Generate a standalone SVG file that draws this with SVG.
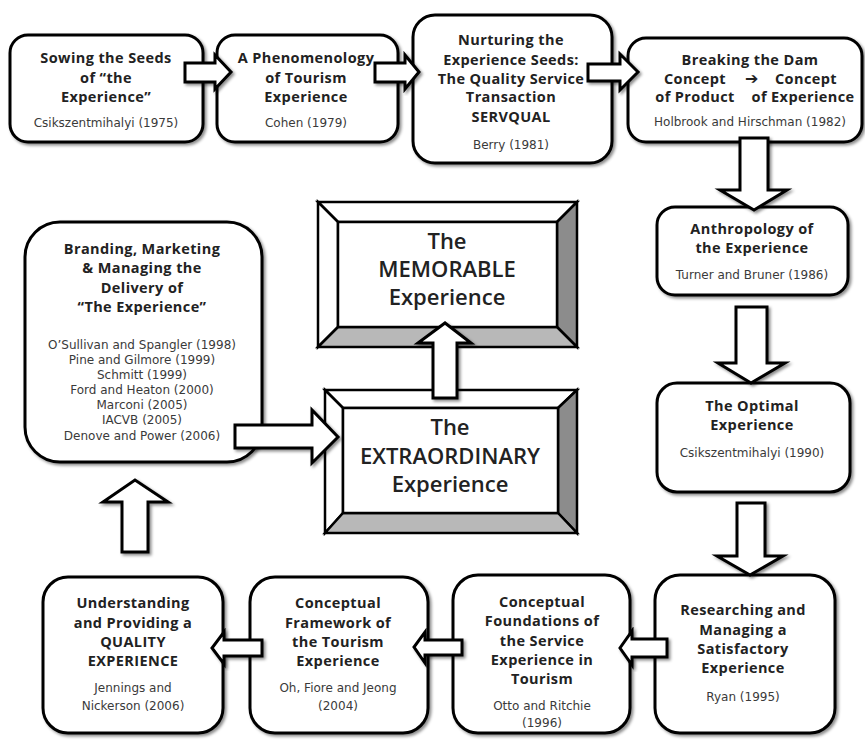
<svg xmlns="http://www.w3.org/2000/svg" width="865" height="740" viewBox="0 0 865 740">
<defs>
<filter id="sh" x="-10%" y="-10%" width="130%" height="130%">
<feDropShadow dx="2" dy="2" stdDeviation="1.5" flood-color="#000" flood-opacity="0.45"/>
</filter>
</defs>
<style>
.box{fill:#fff;stroke:#000;stroke-width:3;filter:url(#sh)}
.arr{fill:#fff;stroke:#000;stroke-width:3;stroke-linejoin:miter;filter:url(#sh)}
.t{font-family:"Open Sans","DejaVu Sans",sans-serif;font-weight:bold;font-size:14.5px;letter-spacing:0.4px;fill:#222;text-anchor:middle}
.c{font-family:"DejaVu Sans","Open Sans",sans-serif;font-size:12px;fill:#3a3a3a;text-anchor:middle}
.big{font-family:"Open Sans","DejaVu Sans",sans-serif;font-weight:600;font-size:22px;fill:#222;text-anchor:middle}
.bev{stroke:#000;stroke-width:2.5;stroke-linejoin:miter}
</style>
<rect width="865" height="740" fill="#fff"/>

<g id="n1">
<rect class="box" x="10" y="35" width="193" height="107" rx="18"/>
<text class="t" x="106" y="63">Sowing the Seeds</text>
<text class="t" x="106" y="83">of “the</text>
<text class="t" x="106" y="102">Experience”</text>
<text class="c" x="106" y="127">Csikszentmihalyi (1975)</text>
</g>
<g id="n2">
<rect class="box" x="217" y="35" width="181" height="107" rx="18"/>
<text class="t" x="306" y="63">A Phenomenology</text>
<text class="t" x="306" y="83">of Tourism</text>
<text class="t" x="306" y="102">Experience</text>
<text class="c" x="306" y="127">Cohen (1979)</text>
</g>
<g id="n3">
<rect class="box" x="413" y="15" width="199" height="148" rx="22"/>
<text class="t" x="511" y="45">Nurturing the</text>
<text class="t" x="511" y="65">Experience Seeds:</text>
<text class="t" x="511" y="84">The Quality Service</text>
<text class="t" x="511" y="102">Transaction</text>
<text class="t" x="511" y="122">SERVQUAL</text>
<text class="c" x="511" y="149">Berry (1981)</text>
</g>
<g id="n4">
<rect class="box" x="628" y="38" width="234" height="104" rx="18"/>
<text class="t" x="750" y="65">Breaking the Dam</text>
<text class="t" x="695" y="84">Concept</text>
<text class="t" x="752" y="84" style="font-family:'DejaVu Sans',sans-serif;font-size:16px">➔</text>
<text class="t" x="806" y="84">Concept</text>
<text class="t" x="695" y="102">of Product</text>
<text class="t" x="803" y="102">of Experience</text>
<text class="c" x="750" y="126">Holbrook and Hirschman (1982)</text>
</g>
<g id="n5">
<rect class="box" x="657" y="207" width="191" height="88" rx="18"/>
<text class="t" x="752" y="234">Anthropology of</text>
<text class="t" x="752" y="253">the Experience</text>
<text class="c" x="752" y="279">Turner and Bruner (1986)</text>
</g>
<g id="n6">
<rect class="box" x="657" y="383" width="193" height="109" rx="20"/>
<text class="t" x="752" y="411">The Optimal</text>
<text class="t" x="752" y="430">Experience</text>
<text class="c" x="752" y="457">Csikszentmihalyi (1990)</text>
</g>
<g id="n7">
<rect class="box" x="655" y="575" width="180" height="158" rx="25"/>
<text class="t" x="743" y="615">Researching and</text>
<text class="t" x="743" y="635">Managing a</text>
<text class="t" x="743" y="654">Satisfactory</text>
<text class="t" x="743" y="673">Experience</text>
<text class="c" x="743" y="701">Ryan (1995)</text>
</g>
<g id="n8">
<rect class="box" x="453" y="575" width="177" height="158" rx="25"/>
<text class="t" x="542" y="607">Conceptual</text>
<text class="t" x="542" y="626">Foundations of</text>
<text class="t" x="542" y="646">the Service</text>
<text class="t" x="542" y="665">Experience in</text>
<text class="t" x="542" y="684">Tourism</text>
<text class="c" x="542" y="710">Otto and Ritchie</text>
<text class="c" x="542" y="727">(1996)</text>
</g>
<g id="n9">
<rect class="box" x="250" y="577" width="178" height="156" rx="25"/>
<text class="t" x="338" y="608">Conceptual</text>
<text class="t" x="338" y="628">Framework of</text>
<text class="t" x="338" y="647">the Tourism</text>
<text class="t" x="338" y="666">Experience</text>
<text class="c" x="338" y="692">Oh, Fiore and Jeong</text>
<text class="c" x="338" y="710">(2004)</text>
</g>
<g id="n10">
<rect class="box" x="43" y="577" width="180" height="156" rx="25"/>
<text class="t" x="133" y="608">Understanding</text>
<text class="t" x="133" y="628">and Providing a</text>
<text class="t" x="133" y="647">QUALITY</text>
<text class="t" x="133" y="666">EXPERIENCE</text>
<text class="c" x="133" y="692">Jennings and</text>
<text class="c" x="133" y="710">Nickerson (2006)</text>
</g>
<g id="n11">
<rect class="box" x="25" y="222" width="237" height="240" rx="35"/>
<text class="t" x="142" y="254">Branding, Marketing</text>
<text class="t" x="142" y="273">&amp; Managing the</text>
<text class="t" x="142" y="293">Delivery of</text>
<text class="t" x="142" y="312">“The Experience”</text>
<text class="c" x="142" y="349">O’Sullivan and Spangler (1998)</text>
<text class="c" x="142" y="364">Pine and Gilmore (1999)</text>
<text class="c" x="142" y="379">Schmitt (1999)</text>
<text class="c" x="142" y="394">Ford and Heaton (2000)</text>
<text class="c" x="142" y="409">Marconi (2005)</text>
<text class="c" x="142" y="424">IACVB (2005)</text>
<text class="c" x="142" y="440">Denove and Power (2006)</text>
</g>
<g id="n12">
<polygon class="bev" fill="#fff" points="318,202 577,202 557,222 338,222"/>
<polygon class="bev" fill="#fff" points="318,202 338,222 338,327 318,347"/>
<polygon class="bev" fill="#8c8c8c" points="577,202 577,347 557,327 557,222"/>
<polygon class="bev" fill="#b8b8b8" points="318,347 338,327 557,327 577,347"/>
<rect class="bev" fill="#fff" x="338" y="222" width="219" height="105"/>
<text class="big" x="447" y="249">The</text>
<text class="big" x="447" y="277">MEMORABLE</text>
<text class="big" x="447" y="305">Experience</text>
</g>
<g id="n13">
<polygon class="bev" fill="#fff" points="325,390 577,390 558,408 343,408"/>
<polygon class="bev" fill="#fff" points="325,390 343,408 343,513 325,533"/>
<polygon class="bev" fill="#8c8c8c" points="577,390 577,533 558,513 558,408"/>
<polygon class="bev" fill="#b8b8b8" points="325,533 343,513 558,513 577,533"/>
<rect class="bev" fill="#fff" x="343" y="408" width="215" height="105"/>
<text class="big" x="450" y="435">The</text>
<text class="big" x="450" y="464">EXTRAORDINARY</text>
<text class="big" x="450" y="492">Experience</text>
</g>

<g id="connectors">
<polygon class="arr" points="185,63 215,63 215,55 231,72 215,89 215,82 185,82"/>
<polygon class="arr" points="375,63 405,63 405,55 419,72 405,89 405,82 375,82"/>
<polygon class="arr" points="588,64 620,64 620,54 638,72 620,90 620,81 588,81"/>
<polygon class="arr" points="740,138 740,190 720,190 754,210 787,190 768,190 768,138"/>
<polygon class="arr" points="736,307 736,363 718,363 751,383 785,363 767,363 767,307"/>
<polygon class="arr" points="737,503 737,556 717,556 750,575 783,556 765,556 765,503"/>
<polygon class="arr" points="667,639 632,639 632,631 620,648 632,665 632,657 667,657"/>
<polygon class="arr" points="462,640 425,640 425,632 414,647 425,663 425,655 462,655"/>
<polygon class="arr" points="262,640 224,640 224,632 212,648 224,664 224,656 262,656"/>
<polygon class="arr" points="122,552 122,502 103,502 135,480 168,502 148,502 148,552"/>
<polygon class="arr" points="235,425 312,425 312,410 338,437 312,463 312,448 235,448"/>
<polygon class="arr" points="433,398 433,343 418,343 445,323 471,343 457,343 457,398"/>
</g>
</svg>
